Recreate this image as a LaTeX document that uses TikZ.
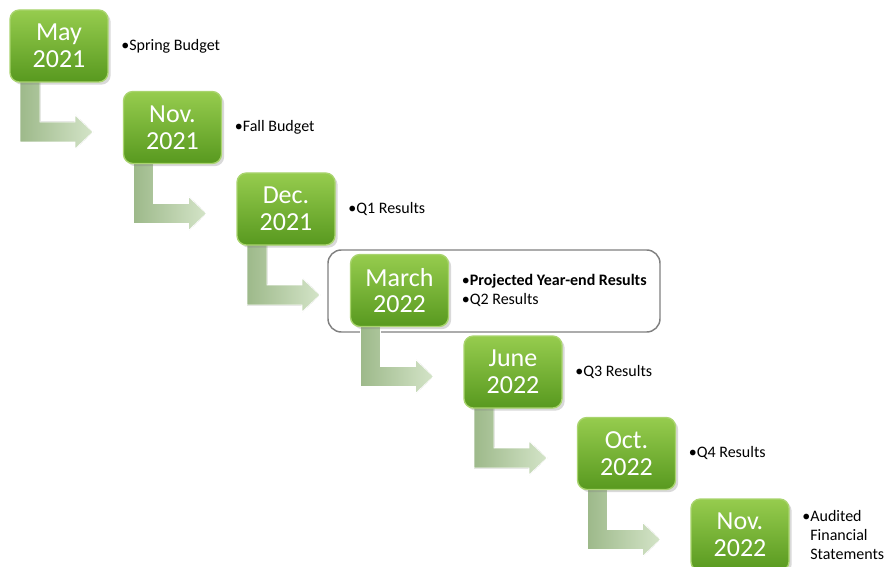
\documentclass[tikz,border=0pt]{standalone}
\usepackage{fontspec}
\setmainfont{Carlito}
\usetikzlibrary{positioning,shadows}
\definecolor{boxtop}{HTML}{96CC4E}
\definecolor{boxbot}{HTML}{58991F}
\definecolor{boxline}{HTML}{A9D46E}
\definecolor{arrleft}{HTML}{9DB98A}
\definecolor{arrright}{HTML}{D4E4C8}
\tikzset{
  datebox/.style={draw=boxline,line width=1pt,rounded corners=7pt,
    top color=boxtop,bottom color=boxbot,minimum width=73.5pt,minimum height=54pt,
    text=white,align=center,font=\fontsize{19.5}{20}\selectfont,
    drop shadow={shadow xshift=2pt,shadow yshift=-2pt,opacity=0.3}},
  notes/.style={anchor=west,align=left,font=\fontsize{12}{14}\selectfont},
  bentarrow/.style={left color=arrleft,right color=arrright,draw=white,line width=0.6pt}
}
\begin{document}
\begin{tikzpicture}[x=0.75pt,y=-0.75pt]
\useasboundingbox (0,0) rectangle (890,567);
% highlight frame round March 2022
\draw[color=gray,line width=1.1pt,rounded corners=10pt] (328,250) rectangle (660,332);
% bent arrows between the dates
\foreach \i in {0,...,5}
  \filldraw[bentarrow,shift={(10+113.5*\i,82+81.5*\i)}]
    (10,-4) -- (30,-4) -- (30,40) -- (65,40) -- (65,33) -- (83,50)
    -- (65,67) -- (65,60) -- (10,60) -- cycle;
% date boxes
\foreach \i/\top/\bot in {0/May/2021,1/Nov./2021,2/Dec./2021,3/March/2022,
    4/June/2022,5/Oct./2022,6/Nov./2022}
  \node[datebox] (d\i) at (59+113.5*\i,46+81.5*\i) {\top\\\bot};
% notes beside the boxes
\node[notes] (n0) [right=6pt of d0] {•Spring Budget};
\node[notes] (n1) [right=6pt of d1] {•Fall Budget};
\node[notes] (n2) [right=6pt of d2] {•Q1 Results};
\node[notes] (n3) [right=6pt of d3] {•\textbf{Projected Year-end Results}\\•Q2 Results};
\node[notes] (n4) [right=6pt of d4] {•Q3 Results};
\node[notes] (n5) [right=6pt of d5] {•Q4 Results};
\node[notes] (n6) [right=6pt of d6] {•Audited\\\hphantom{•}Financial\\\hphantom{•}Statements};
\end{tikzpicture}
\end{document}
